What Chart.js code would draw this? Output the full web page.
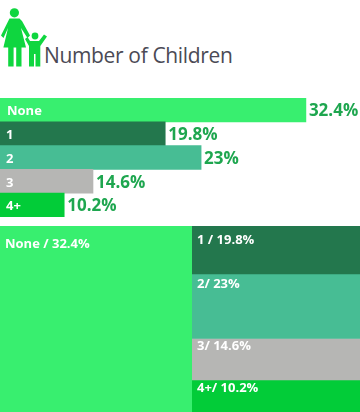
<!DOCTYPE html>
<html><head><meta charset="utf-8">
<script src="https://cdn.jsdelivr.net/npm/chart.js@4"></script>
<style>
html,body{margin:0;padding:0;background:#fff;width:360px;height:412px;overflow:hidden}
canvas{position:absolute;display:block}
#title{position:absolute;left:44px;top:41px;font:21px "Open Sans",sans-serif;color:#4b4a55;white-space:nowrap;letter-spacing:-.35px}
#icon{position:absolute;left:0;top:0}
</style></head><body>
<svg id="icon" width="50" height="70" viewBox="0 0 50 70" fill="#0fd63f">
<circle cx="14.4" cy="12.8" r="4.6"/>
<path d="M9.5 18.5H19.5L22 21L30 35.5L27.5 38L21 28L26 47.5H21.5V66.5H16.2V47.5H13.6V66.5H8.2V47.5H3.4L8 28L3.5 38L1 35.5Z"/>
<circle cx="35" cy="36" r="3.4"/>
<path d="M30 41H39L44 34.5L47 36.5L40.3 46V66.5H35.5V54H34V66.5H29V46L25 39L27.5 37Z"/>
</svg>
<div id="title">Number of Children</div>
<canvas id="bars" width="360" height="119" style="left:0;top:98px"></canvas>
<canvas id="left" width="192" height="186" style="left:0;top:226px"></canvas>
<canvas id="right" width="168" height="186" style="left:192px;top:226px"></canvas>
<script>
const categories = ["None","1","2","3","4+"];
const shareLabels = ["32.4%","19.8%","23%","14.6%","10.2%"];
const colors = ["#38ef6f","#23774d","#47bd94","#b6b6b4","#02cc38"];
// Bar lengths as drawn in the picture (not proportional to the printed shares)
const drawnLengths = [32.4,17.5,21.3,9.85,6.8];
const axisMax = 38.13;
// Panel cells as drawn in the picture
const panelLeftValues = [186];
const panelRightValues = [48,64.5,41.5,32];
const panelLeftLabels = ["None / 32.4%"];
const panelRightLabels = ["1 / 19.8%","2/ 23%","3/ 14.6%","4+/ 10.2%"];
const panelLeftOffsets = [18];
const panelRightOffsets = [14,10,8,8];

const FONT = '"Open Sans",sans-serif';
const hidden = {display:false};
const base = {responsive:false,animation:false,devicePixelRatio:1,
  layout:{padding:0},plugins:{legend:hidden,tooltip:{enabled:false}}};

const barLabels = {id:'barLabels',afterDatasetsDraw(c){
  const ctx=c.ctx;ctx.save();ctx.textBaseline='middle';
  c.getDatasetMeta(0).data.forEach((b,i)=>{
    ctx.font='bold 13px '+FONT;ctx.fillStyle='#fff';
    ctx.fillText(categories[i],i===0?7:6,b.y+1.5);
    ctx.font='bold 17px '+FONT;ctx.fillStyle='#1ea64f';
    ctx.fillText(shareLabels[i],b.x+3,b.y+1.5);
  });ctx.restore();}};

new Chart(document.getElementById('bars'),{type:'bar',
  data:{labels:categories,datasets:[{data:drawnLengths,backgroundColor:colors,
    categoryPercentage:1,barPercentage:1,borderWidth:0}]},
  options:{...base,indexAxis:'y',scales:{
    x:{display:false,min:0,max:axisMax},y:{display:false}}},
  plugins:[barLabels]});

const panelLabels = (texts,offsets) => ({id:'panelLabels',afterDatasetsDraw(c){
  const ctx=c.ctx;ctx.save();ctx.textBaseline='middle';
  ctx.font='bold 13px '+FONT;ctx.fillStyle='#fff';
  c.data.datasets.forEach((d,i)=>{
    const b=c.getDatasetMeta(i).data[0];
    ctx.fillText(texts[i],5,Math.min(b.y,b.base)+offsets[i]);
  });ctx.restore();}});

function panel(id,values,texts,offsets,cols){
  const total=values.reduce((a,b)=>a+b,0);
  new Chart(document.getElementById(id),{type:'bar',
    data:{labels:['panel'],datasets:values.map((v,i)=>({data:[v],backgroundColor:cols[i],
      categoryPercentage:1,barPercentage:1,borderWidth:0}))},
    options:{...base,scales:{
      x:{display:false,stacked:true},
      y:{display:false,stacked:true,min:0,max:total,reverse:true}}},
    plugins:[panelLabels(texts,offsets)]});
}
panel('left',panelLeftValues,panelLeftLabels,panelLeftOffsets,colors.slice(0,1));
panel('right',panelRightValues,panelRightLabels,panelRightOffsets,colors.slice(1));
</script>
</body></html>
